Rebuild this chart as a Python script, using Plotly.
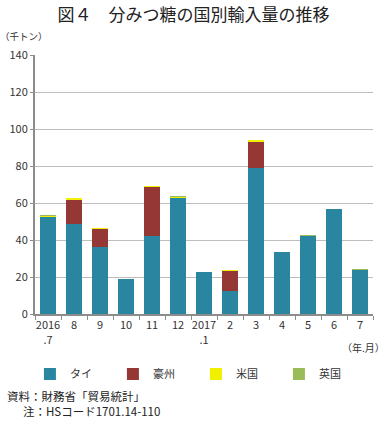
import plotly.graph_objects as go

categories = ["2016<br>.7", "8", "9", "10", "11", "12", "2017<br>.1", "2", "3", "4", "5", "6", "7"]
thai = [52.8, 48.5, 36.0, 19.0, 42.2, 63.2, 22.5, 12.4, 79.0, 33.3, 42.2, 56.6, 23.8]
australia = [0, 13.6, 10.2, 0, 26.5, 0, 0, 11.1, 14.5, 0, 0, 0, 0]
usa = [0.2, 0.4, 0.1, 0, 0.4, 0.3, 0, 0.2, 0.4, 0, 0.1, 0, 0.2]
uk = [0.1, 0, 0, 0, 0, 0.1, 0, 0, 0, 0, 0.1, 0, 0.1]

font_family = "Noto Sans CJK JP"
fig = go.Figure()
series = [("タイ", thai, "#2a86a0"), ("豪州", australia, "#953735"),
          ("米国", usa, "#f0f000"), ("英国", uk, "#9bbb59")]
for name, vals, col in series:
    fig.add_trace(go.Bar(x=categories, y=vals, name=name, marker_color=col,
                         marker_line_width=0))

fig.update_layout(
    barmode="stack",
    bargap=0.42,
    width=387, height=428,
    margin=dict(l=35, r=14, t=55, b=114, autoexpand=False),
    paper_bgcolor="white", plot_bgcolor="white",
    font=dict(family=font_family, size=11, color="#333"),
    title=dict(text="図４　分みつ糖の国別輸入量の推移", x=0.5, xanchor="center",
               y=0.965, yanchor="middle", font=dict(size=17, color="#222")),
    legend=dict(orientation="h", x=-0.015, xanchor="left", y=-0.232, yanchor="middle",
                font=dict(size=11, color="#333"), entrywidth=38, entrywidthmode="pixels",
                itemwidth=30, traceorder="normal"),
    showlegend=True,
)
fig.update_yaxes(range=[0, 140], dtick=20, showgrid=True, gridcolor="#bdbdbd", gridwidth=1,
                 showline=True, linecolor="#8c8c8c", linewidth=2, ticks="outside",
                 ticklen=3, tickcolor="#8c8c8c", tickfont=dict(size=11, color="#333"),
                 zeroline=False, automargin=False)
fig.update_xaxes(showline=True, linecolor="#8c8c8c", linewidth=2, ticks="outside",
                 tickson="boundaries", ticklen=4, tickcolor="#8c8c8c",
                 tickfont=dict(size=11, color="#333"), tickangle=0, automargin=False)

fig.add_annotation(text="（千トン）", xref="paper", yref="paper", x=-0.11, y=1.04,
                   xanchor="left", yanchor="bottom", showarrow=False, font=dict(size=9.5))
fig.add_annotation(text="（年.月）", xref="paper", yref="paper", x=1.04, y=-0.13,
                   xanchor="right", yanchor="middle", showarrow=False, font=dict(size=10))
fig.add_annotation(text="資料：財務省「貿易統計」", xref="paper", yref="paper",
                   x=-0.09, y=-0.318, xanchor="left", yanchor="middle", showarrow=False,
                   font=dict(size=11.5, color="#222"))
fig.add_annotation(text="注：HSコード1701.14-110", xref="paper", yref="paper",
                   x=-0.04, y=-0.376, xanchor="left", yanchor="middle", showarrow=False,
                   font=dict(size=11.5, color="#222"))

fig.write_html("out.html", config={"displayModeBar": False},
               post_script="document.body.style.margin='0';document.body.style.padding='0';")
